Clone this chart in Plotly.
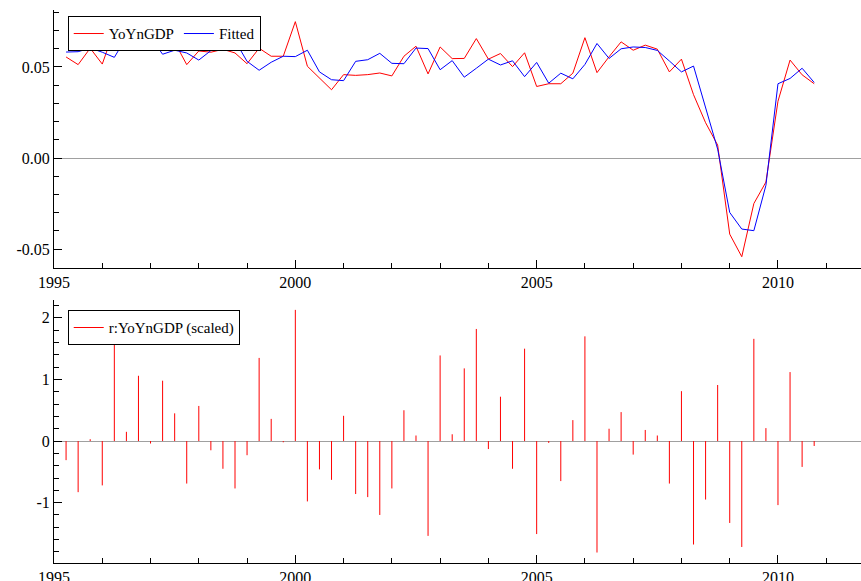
import plotly.graph_objects as go

# quarterly, 1995Q2 .. 2010Q4
start = 1995.25
yoy = [0.0555, 0.0513, 0.0603, 0.0516, 0.0705, 0.0681, 0.0714, 0.0659, 0.0654, 0.0636,
       0.0513, 0.0588, 0.0581, 0.0597, 0.0577, 0.0518, 0.0603, 0.0559, 0.0559, 0.0749,
       0.0504, 0.0440, 0.0375, 0.0458, 0.0454, 0.0458, 0.0467, 0.0451, 0.0559, 0.0614,
       0.0462, 0.0610, 0.0546,
       0.0547, 0.0656, 0.0543, 0.0574, 0.0502, 0.0578, 0.0393, 0.0408, 0.0408, 0.0466,
       0.0661, 0.0469, 0.0556, 0.0638, 0.0592, 0.0620, 0.0598, 0.0473, 0.0543, 0.0348,
       0.0194, 0.0071, -0.0418, -0.0542, -0.0250, -0.0132, 0.0312, 0.0538, 0.0457, 0.0408]
fitted = [0.0582, 0.0584, 0.0604, 0.0581, 0.0553, 0.0663, 0.0623, 0.0663, 0.0570, 0.0592,
          0.0577, 0.0538, 0.0590, 0.0637, 0.0645, 0.0531, 0.0482, 0.0526, 0.0559, 0.0557,
          0.0592, 0.0473, 0.0430, 0.0425, 0.0531, 0.0540, 0.0575, 0.0520, 0.0518, 0.0604,
          0.0601, 0.0485, 0.0535,
          0.0444, 0.0493, 0.0543, 0.0511, 0.0534, 0.0447, 0.0525, 0.0411, 0.0466, 0.0435,
          0.0514, 0.0629, 0.0547, 0.0600, 0.0610, 0.0607, 0.0591, 0.0533, 0.0473, 0.0505,
          0.0284, 0.0049, -0.0299, -0.0390, -0.0399, -0.0150, 0.0408, 0.0437, 0.0493, 0.0415]
resid = [-0.31, -0.83, 0.03, -0.72, 1.69, 0.15, 1.06, -0.04, 0.98, 0.45,
         -0.69, 0.57, -0.15, -0.45, -0.77, -0.23, 1.35, 0.36, -0.02, 2.13,
         -0.98, -0.46, -0.63, 0.41, -0.86, -0.91, -1.20, -0.77, 0.50, 0.09,
         -1.54, 1.39, 0.11, 1.18, 1.82, -0.13, 0.72, -0.45, 1.50, -1.51,
         -0.03, -0.65, 0.34, 1.70, -1.81, 0.20, 0.47, -0.22, 0.18, 0.09,
         -0.69, 0.81, -1.68, -0.95, 0.91, -1.33, -1.72, 1.66, 0.21, -1.04,
         1.12, -0.42, -0.08]

t = [start + 0.25 * i for i in range(len(yoy))]

# spikes for residual plot
sx, sy = [], []
for xi, r in zip(t, resid):
    sx += [xi, xi, None]
    sy += [0, r, None]

fig = go.Figure()
fig.add_trace(go.Scatter(x=t, y=yoy, mode="lines", name="YoYnGDP",
                         line=dict(color="#ff0000", width=1), xaxis="x", yaxis="y"))
fig.add_trace(go.Scatter(x=t, y=fitted, mode="lines", name="Fitted",
                         line=dict(color="#0000ff", width=1), xaxis="x", yaxis="y"))
fig.add_trace(go.Scatter(x=sx, y=sy, mode="lines", name="r:YoYnGDP (scaled)",
                         line=dict(color="#ff0000", width=1), xaxis="x2", yaxis="y2",
                         legend="legend2"))

xcommon = dict(range=[1995, 2011.72], tickvals=[1995, 2000, 2005, 2010],
               ticks="inside", ticklen=8, tickcolor="black", showline=True,
               linecolor="black", linewidth=1, showgrid=False, zeroline=False,
               automargin=False,
               minor=dict(dtick=1, ticks="inside", ticklen=5, tickcolor="black"),
               tickfont=dict(size=16))
ycommon = dict(ticks="inside", ticklen=8, tickcolor="black", showline=True,
               linecolor="black", showgrid=False, zeroline=True, automargin=False,
               zerolinecolor="#a0a0a0", zerolinewidth=1, tickfont=dict(size=16))
fig.update_layout(
    width=861, height=581,
    margin=dict(l=54, r=0, t=0, b=0),
    paper_bgcolor="white", plot_bgcolor="white",
    font=dict(family="Liberation Serif", color="black", size=16),
    xaxis=dict(domain=[0, 1], anchor="y", **xcommon),
    xaxis2=dict(domain=[0, 1], anchor="y2", **xcommon),
    yaxis=dict(domain=[0.5387, 0.9828], range=[-0.0604, 0.0813],
               tickvals=[-0.05, 0, 0.05], ticktext=["-0.05", "0.00", "0.05"],
               minor=dict(dtick=0.01, ticks="inside", ticklen=5, tickcolor="black"),
               **ycommon),
    yaxis2=dict(domain=[0.031, 0.4836], range=[-1.98, 2.29],
                tickvals=[-1, 0, 1, 2], ticktext=["-1", "0", "1", "2"],
                minor=dict(dtick=0.2, ticks="inside", ticklen=5, tickcolor="black"),
                **ycommon),
    legend=dict(x=0.017, y=0.972, xanchor="left", yanchor="top", orientation="h",
                bordercolor="black", borderwidth=1, bgcolor="white",
                font=dict(size=15), tracegroupgap=0),
    legend2=dict(x=0.017, y=0.466, xanchor="left", yanchor="top",
                 bordercolor="black", borderwidth=1, bgcolor="white",
                 font=dict(size=15)),
)

fig.write_html("out.html", post_script="document.body.style.margin='0';",
               config={"displayModeBar": False})
